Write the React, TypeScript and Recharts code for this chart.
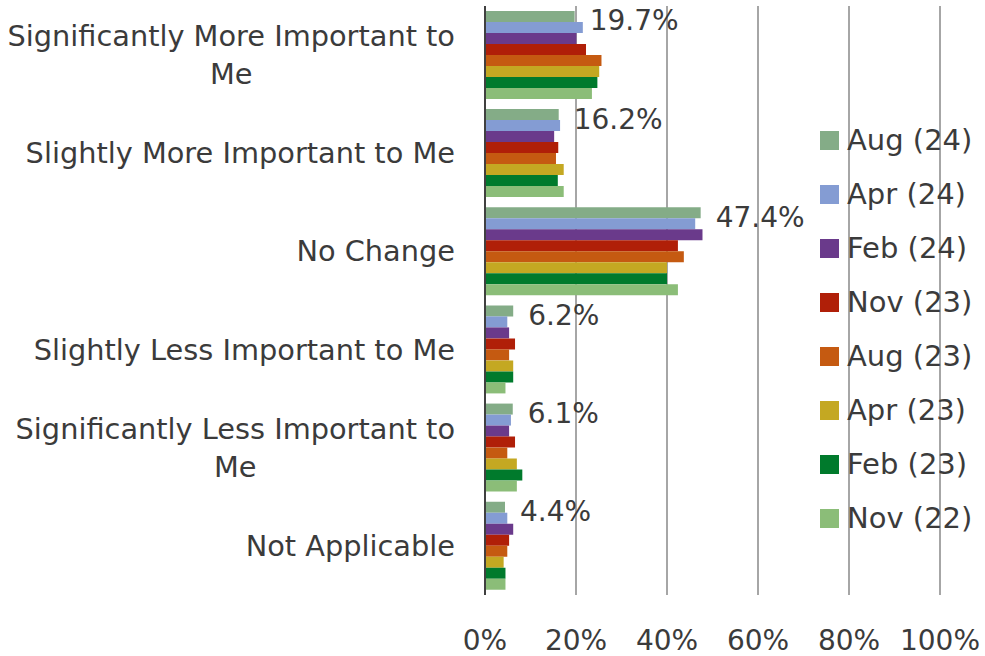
import { BarChart, Bar, XAxis, YAxis, CartesianGrid, Legend, LabelList } from 'recharts'

const FONT = '"DejaVu Sans", Verdana, sans-serif'
const TEXT = '#3b3b3b'

const CATEGORIES = [
  'Significantly More Important to Me',
  'Slightly More Important to Me',
  'No Change',
  'Slightly Less Important to Me',
  'Significantly Less Important to Me',
  'Not Applicable',
]

// how each category label wraps on the axis
const TICK_LINES = [
  ['Significantly More Important to', 'Me'],
  ['Slightly More Important to Me'],
  ['No Change'],
  ['Slightly Less Important to Me'],
  ['Significantly Less Important to', 'Me'],
  ['Not Applicable'],
]

const X_TICKS = [0, 20, 40, 60, 80, 100]

const SERIES = ['Aug (24)', 'Apr (24)', 'Feb (24)', 'Nov (23)', 'Aug (23)', 'Apr (23)', 'Feb (23)', 'Nov (22)']
const COLORS = ['#84ac87', '#849cd3', '#6a3a8b', '#b01f08', '#c55a11', '#c4a822', '#007a2c', '#8bbd78']

const aug24 = [19.7, 16.2, 47.4, 6.2, 6.1, 4.4]
const apr24 = [21.5, 16.5, 46.2, 4.9, 5.7, 4.9]
const feb24 = [20.1, 15.2, 47.8, 5.3, 5.3, 6.2]
const nov23 = [22.2, 16.1, 42.4, 6.6, 6.6, 5.3]
const aug23 = [25.6, 15.6, 43.7, 5.3, 4.9, 4.9]
const apr23 = [25.1, 17.3, 40.0, 6.2, 7.0, 4.1]
const feb23 = [24.7, 16.0, 40.0, 6.2, 8.2, 4.5]
const nov22 = [23.5, 17.3, 42.4, 4.5, 7.0, 4.5]

const VALUES = [aug24, apr24, feb24, nov23, aug23, apr23, feb23, nov22]

const data = CATEGORIES.map((name, i) => {
  const row: any = { name }
  SERIES.forEach((s, j) => { row[s] = VALUES[j][i] })
  return row
})

let ctx: CanvasRenderingContext2D | null = null
function textWidth(s: string, size: number) {
  if (!ctx) ctx = document.createElement('canvas').getContext('2d')
  if (!ctx) return s.length * size * 0.6
  ctx.font = `${size}px ${FONT}`
  return ctx.measureText(s).width
}

const CategoryTick = ({ x, y, payload }: any) => {
  const lines = TICK_LINES[payload.index] || [payload.value]
  const n = lines.length
  const size = 28.8
  if (n === 1) {
    return (
      <text x={x} y={y + 10} textAnchor="end" fontSize={size} fontFamily={FONT} fill={TEXT}>
        {lines[0]}
      </text>
    )
  }
  const maxW = Math.max(...lines.map(l => textWidth(l, size)))
  const cx = x - maxW / 2
  return (
    <g>
      {lines.map((l, i) => (
        <text
          key={i}
          x={cx}
          y={y + 10 + (i - (n - 1) / 2) * 38}
          textAnchor="middle"
          fontSize={size}
          fontFamily={FONT}
          fill={TEXT}
        >
          {l}
        </text>
      ))}
    </g>
  )
}

const ValueLabel = ({ x, y, width, height, value }: any) => (
  <text
    x={x + width + 15}
    y={y + height / 2 + 14}
    fontSize={28}
    fontFamily={FONT}
    fill={TEXT}
  >
    {Number(value).toFixed(1)}%
  </text>
)

const LegendList = () => (
  <div style={{ fontFamily: FONT, fontSize: 29, color: TEXT }}>
    {SERIES.map((s, i) => (
      <div key={s} style={{ display: 'flex', alignItems: 'center', height: 54 }}>
        <div style={{ width: 19, height: 19, background: COLORS[i], marginRight: 8 }} />
        <span style={{ lineHeight: '30px' }}>{s}</span>
      </div>
    ))}
  </div>
)

export default function App() {
  return (
    <div style={{ position: 'relative', width: 985, height: 656, background: '#fff' }}>
      <style>{'body{margin:0}'}</style>
      <BarChart
        width={985}
        height={656}
        data={data}
        layout="vertical"
        margin={{ top: 6, right: 45, left: 0, bottom: 0 }}
        barCategoryGap="5%"
        barGap={0}
      >
        <CartesianGrid horizontal={false} stroke="#a6a6a6" strokeWidth={2} />
        <XAxis
          type="number"
          domain={[0, 100]}
          ticks={X_TICKS}
          tickFormatter={v => `${v}%`}
          axisLine={false}
          tickLine={false}
          tickSize={0}
          tickMargin={35}
          height={61}
          tick={{ fontSize: 28, fill: TEXT, fontFamily: FONT }}
          interval={0}
        />
        <YAxis
          type="category"
          dataKey="name"
          width={485}
          axisLine={{ stroke: '#404040', strokeWidth: 2 }}
          tickLine={false}
          tickSize={0}
          tickMargin={30}
          tick={<CategoryTick />}
          interval={0}
        />
        <Legend
          layout="horizontal"
          align="center"
          verticalAlign="middle"
          content={<LegendList />}
          wrapperStyle={{ position: 'absolute', left: 820, top: 113, width: 165, height: 440 }}
        />
        {SERIES.map((s, i) => (
          <Bar key={s} dataKey={s} fill={COLORS[i]} isAnimationActive={false}>
            {i === 0 && <LabelList dataKey={s} content={<ValueLabel />} />}
          </Bar>
        ))}
      </BarChart>
    </div>
  )
}
